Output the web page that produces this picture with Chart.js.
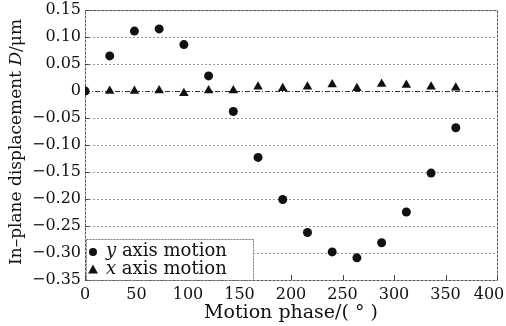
<!DOCTYPE html>
<html>
<head>
<meta charset="utf-8">
<script src="https://cdn.jsdelivr.net/npm/chart.js@4/dist/chart.umd.min.js"></script>
<style>
  html, body { margin: 0; padding: 0; background: #fff; }
  #grafico-container { width: 506px; height: 326px; }
</style>
</head>
<body>
<div id="grafico-container"><canvas id="grafico" width="506" height="326"></canvas></div>
<script>
// Dados
const fases = [0, 24, 48, 72, 96, 120, 144, 168, 192, 216, 240, 264, 288, 312, 336, 360];
const movimentoY = [0, 0.065, 0.111, 0.115, 0.086, 0.028, -0.038, -0.123, -0.201, -0.262, -0.298, -0.309, -0.281, -0.224, -0.152, -0.068];
const movimentoX = [0, 0, 0, 0.001, -0.004, 0.001, 0.001, 0.008, 0.005, 0.008, 0.012, 0.005, 0.013, 0.011, 0.008, 0.006];
const ticksX = [0, 50, 100, 150, 200, 250, 300, 350, 400];
const ticksY = [0.15, 0.10, 0.05, 0, -0.05, -0.10, -0.15, -0.20, -0.25, -0.30, -0.35];
const rotulos = ['y', 'x'];

const FONTE = '"DejaVu Serif", serif';

function formatarY(v) {
    if (Math.abs(v) < 1e-9) return '0';
    return (v < 0 ? '\u2212' : '') + Math.abs(v).toFixed(2);
}

// o último rótulo fica puxado para dentro, como no original
function formatarX(v) {
    return v === 400 ? '400\u2002\u2002' : String(v);
}

function linha(ctx, x1, y1, x2, y2) {
    ctx.beginPath();
    ctx.moveTo(x1, y1);
    ctx.lineTo(x2, y2);
    ctx.stroke();
}

function circulo(ctx, x, y, r) {
    ctx.beginPath();
    ctx.arc(x, y, r, 0, Math.PI * 2);
    ctx.fill();
}

function triangulo(ctx, x, y, r) {
    ctx.beginPath();
    ctx.moveTo(x, y - r);
    ctx.lineTo(x + r * 0.9, y + r * 0.65);
    ctx.lineTo(x - r * 0.9, y + r * 0.65);
    ctx.closePath();
    ctx.fill();
}

// texto com partes em itálico
function textoMisto(ctx, partes, x, y, tamanho) {
    let total = 0;
    partes.forEach(p => {
        ctx.font = (p.it ? 'italic ' : '') + tamanho + 'px ' + FONTE;
        total += ctx.measureText(p.t).width;
    });
    let pos = x - total / 2;
    ctx.textAlign = 'left';
    partes.forEach(p => {
        ctx.font = (p.it ? 'italic ' : '') + tamanho + 'px ' + FONTE;
        ctx.fillText(p.t, pos, y);
        pos += ctx.measureText(p.t).width;
    });
}

const molduraPlugin = {
    id: 'moldura',
    beforeDatasetsDraw(chart) {
        const { ctx, chartArea: a, scales: { x, y } } = chart;
        ctx.save();
        ctx.lineWidth = 1;
        // linhas de grade horizontais
        ticksY.forEach(v => {
            const py = Math.round(y.getPixelForValue(v)) + 0.5;
            if (v === 0) { ctx.strokeStyle = '#333'; ctx.setLineDash([5, 2, 1, 2]); }
            else { ctx.strokeStyle = '#999'; ctx.setLineDash([2, 2]); }
            linha(ctx, a.left, py, a.right, py);
        });
        // moldura
        ctx.strokeStyle = '#555';
        ctx.setLineDash([3, 1]);
        ctx.strokeRect(Math.round(a.left) + 0.5, Math.round(a.top) + 0.5,
            Math.round(a.right - a.left), Math.round(a.bottom - a.top));
        // marcas internas
        ctx.setLineDash([]);
        ctx.strokeStyle = '#444';
        ticksX.forEach(v => {
            const px = Math.round(x.getPixelForValue(v)) + 0.5;
            linha(ctx, px, a.bottom, px, a.bottom - 5);
        });
        ticksY.forEach(v => {
            const py = Math.round(y.getPixelForValue(v)) + 0.5;
            linha(ctx, a.left, py, a.left + 4, py);
        });
        ctx.restore();
    },
    afterDatasetsDraw(chart) {
        const { ctx, chartArea: a } = chart;
        ctx.save();
        // caixa da legenda
        const bx = a.left + 1, by = 239, bw = 167, bh = a.bottom - 239;
        ctx.fillStyle = '#fff';
        ctx.fillRect(bx, by, bw, bh);
        ctx.strokeStyle = '#777';
        ctx.lineWidth = 1;
        ctx.setLineDash([2, 1]);
        ctx.strokeRect(bx + 0.5, by + 0.5, bw, bh);
        ctx.setLineDash([]);
        ctx.fillStyle = '#111';
        circulo(ctx, 93, 252, 4);
        triangulo(ctx, 93, 270, 5.5);
        ctx.textBaseline = 'middle';
        rotulos.forEach((r, i) => {
            const ty = i === 0 ? 251 : 269;
            ctx.font = 'italic 18px ' + FONTE;
            ctx.textAlign = 'left';
            ctx.fillText(r, 106, ty);
            const w = ctx.measureText(r).width;
            ctx.font = '18px ' + FONTE;
            ctx.fillText(' axis motion', 106 + w, ty);
        });
        ctx.restore();
    },
    afterDraw(chart) {
        const { ctx, chartArea: a } = chart;
        ctx.save();
        ctx.fillStyle = '#111';
        ctx.textBaseline = 'middle';
        // título do eixo x
        textoMisto(ctx, [{ t: 'Motion phase/( ° )' }], (a.left + a.right) / 2, 313, 19);
        // título do eixo y
        ctx.translate(17, (a.top + a.bottom) / 2 - 3);
        ctx.rotate(-Math.PI / 2);
        textoMisto(ctx, [{ t: 'In\u2013plane displacement ' }, { t: 'D', it: true }, { t: '/\u03bcm' }], 0, 0, 17);
        ctx.restore();
    }
};

const ctx = document.getElementById('grafico').getContext('2d');

new Chart(ctx, {
    type: 'scatter',
    data: {
        datasets: [
            {
                label: 'y axis motion',
                data: fases.map((f, i) => ({ x: f, y: movimentoY[i] })),
                pointStyle: 'circle',
                pointRadius: 4.5,
                backgroundColor: '#111',
                borderColor: '#111',
                borderWidth: 0
            },
            {
                label: 'x axis motion',
                data: fases.map((f, i) => ({ x: f, y: movimentoX[i] })),
                pointStyle: 'triangle',
                pointRadius: 5.5,
                backgroundColor: '#111',
                borderColor: '#111',
                borderWidth: 0
            }
        ]
    },
    options: {
        responsive: false,
        animation: false,
        layout: { padding: { left: 0, right: 9, top: 10, bottom: 0 } },
        scales: {
            x: {
                type: 'linear',
                min: 0,
                max: 400,
                afterBuildTicks: s => { s.ticks = ticksX.map(v => ({ value: v })); },
                afterFit: s => { s.height = 46; s.paddingRight = 0; s.paddingLeft = 0; },
                grid: { display: false, drawTicks: false },
                border: { display: false },
                ticks: {
                    padding: 5,
                    color: '#111',
                    font: { family: FONTE, size: 16 },
                    maxRotation: 0,
                    callback: v => formatarX(v)
                }
            },
            y: {
                type: 'linear',
                min: -0.35,
                max: 0.15,
                afterBuildTicks: s => { s.ticks = ticksY.map(v => ({ value: v })); },
                afterFit: s => { s.width = 85; s.paddingTop = 0; s.paddingBottom = 0; },
                grid: { display: false, drawTicks: false },
                border: { display: false },
                ticks: {
                    padding: 4,
                    color: '#111',
                    font: { family: FONTE, size: 16 },
                    callback: v => formatarY(v)
                }
            }
        },
        plugins: {
            legend: { display: false },
            tooltip: { enabled: false }
        }
    },
    plugins: [molduraPlugin]
});
</script>
</body>
</html>
